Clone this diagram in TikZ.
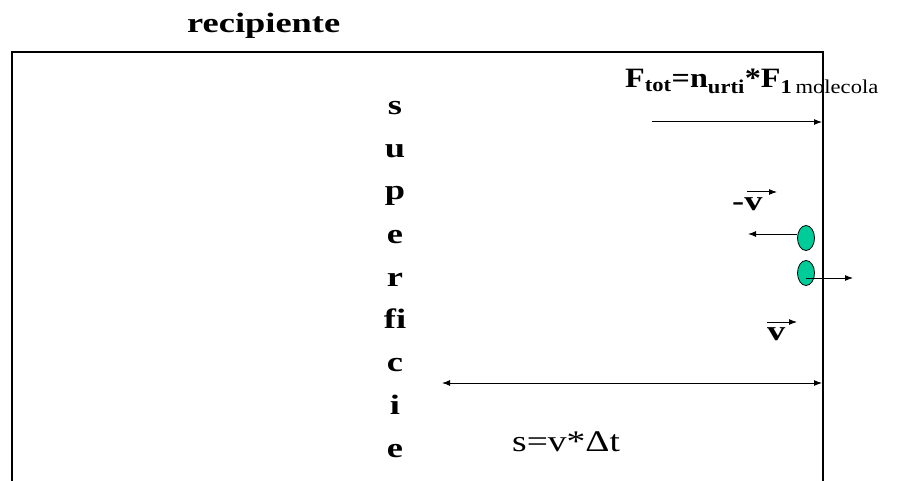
\documentclass[tikz,border=0pt]{standalone}
\usepackage{fontspec}
\setmainfont{Liberation Serif}
\usetikzlibrary{arrows.meta}
\usetikzlibrary{shapes.geometric}
\definecolor{molgreen}{RGB}{0,204,153}
\newcommand{\stretchx}[1]{\scalebox{1.3}[1]{#1}}

\begin{document}
\begin{tikzpicture}[x=1pt,y=-1pt,inner sep=0pt,
  txt/.style={font=\fontsize{28}{34}\selectfont\bfseries},
  arr/.style={line width=1pt,-{Latex[length=8pt,width=6pt]}},
  mol/.style={ellipse,draw,line width=0.8pt,fill=molgreen,minimum width=17pt,minimum height=25pt}]
\useasboundingbox (0,0) rectangle (899,481);
% recipiente (wall on the right)
\draw[line width=1.5pt] (12,481) -- (12,52) -- (823,52) -- (823,481);
\node[txt,anchor=base west] (rec) at (187,33) {\stretchx{recipiente}};

% superficie, one letter per line
\node[txt,anchor=base] (l1) at (395,115) {\stretchx{s}};
\node[txt,anchor=base] (l2) at (395,158) {\stretchx{u}};
\node[txt,anchor=base] (l3) at (395,200) {\stretchx{p}};
\node[txt,anchor=base] (l4) at (395,243) {\stretchx{e}};
\node[txt,anchor=base] (l5) at (395,286) {\stretchx{r}};
\node[txt,anchor=base] (l6) at (395,328) {\stretchx{fi}};
\node[txt,anchor=base] (l7) at (395,371) {\stretchx{c}};
\node[txt,anchor=base] (l8) at (395,414) {\stretchx{i}};
\node[txt,anchor=base] (l9) at (395,457) {\stretchx{e}};

% force on the wall
\node[txt,anchor=base west] (ftot) at (625,88)
  {\scalebox{1.15}[1]{F\textsubscript{tot}=n\textsubscript{urti}*F\textsubscript{1\,\mdseries molecola}}};
\coordinate (f0) at (652,122);
\coordinate (f1) at (822,122);
\draw[arr] (f0) -- (f1);

% molecules
\node[mol] (m1) at (806,238) {};
\node[mol] (m2) at (806,273) {};
\coordinate (m1e) at (748,234);
\coordinate (m2o) at (806,278);
\coordinate (m2e) at (853,278);
\draw[arr] (m1.west |- m1e) -- (m1e);
\draw[arr] (m2o) -- (m2e);

% velocities
\node[txt,anchor=base west] (vm) at (732,211) {\stretchx{-v}};
\coordinate (vm0) at (747,192);
\coordinate (vm1) at (777,192);
\draw[arr] (vm0) -- (vm1);
\node[txt,anchor=base west] (vp) at (767,340) {\stretchx{v}};
\coordinate (vp0) at (767,322);
\coordinate (vp1) at (797,322);
\draw[arr] (vp0) -- (vp1);

% distance
\coordinate (sl) at (442,383);
\coordinate (sr) at (822,383);
\draw[line width=1pt,{Latex[length=8pt,width=6pt]}-{Latex[length=8pt,width=6pt]}] (sl) -- (sr);
\node[anchor=base west,font=\fontsize{30}{36}\selectfont] (sdist) at (512,451) {\scalebox{1.25}[1]{s=v*Δt}};
\end{tikzpicture}
\end{document}
